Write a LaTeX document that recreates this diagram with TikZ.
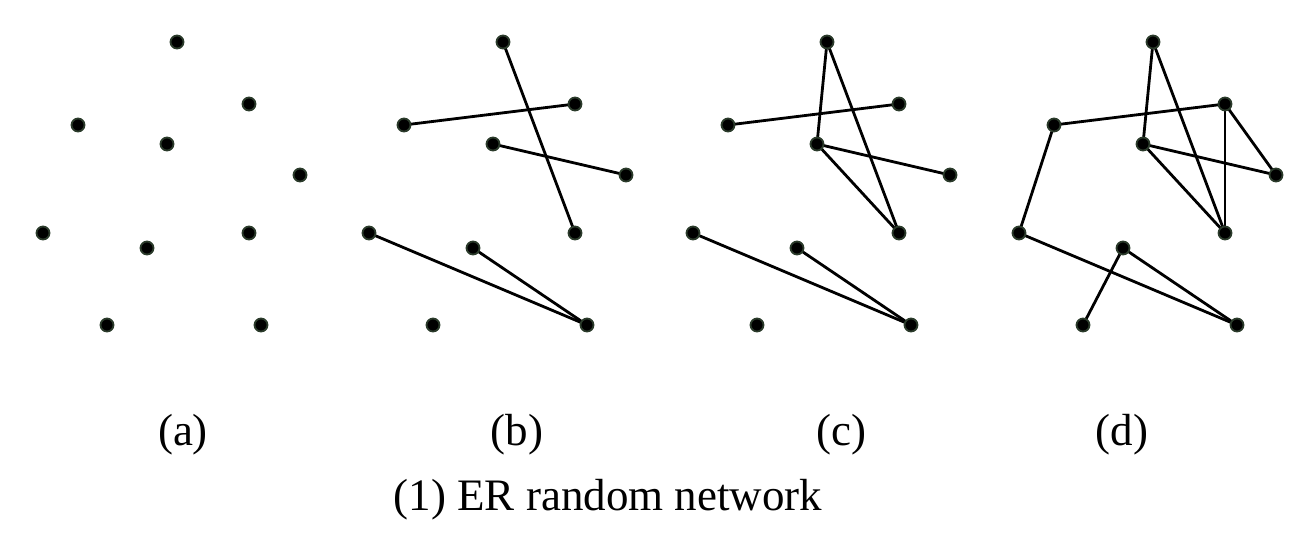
\documentclass[tikz,border=0pt]{standalone}
\usepackage{fontspec}
\setmainfont{Liberation Serif}
\pgfdeclarelayer{background}
\pgfsetlayers{background,main}
\definecolor{dotrim}{HTML}{2B3B2B}
\begin{document}
\begin{tikzpicture}[x=1pt,y=-1pt,
  dot/.style={circle,fill=black,draw=dotrim,line width=1.8pt,inner sep=0pt,minimum size=13pt},
  edge/.style={line width=2.8pt,black},
  lab/.style={font=\fontsize{45}{54}\selectfont,inner sep=0pt}]
\useasboundingbox (0,0) rectangle (1303,554);
\foreach \p/\dx in {a/0,b/326,c/650,d/976}{
  \foreach \i/\x/\y in {1/177/42,2/249/104,3/78/125,4/167/144,5/300/175,6/43/233,7/147/248,8/249/233,9/107/325,10/261/325}{
    \node[dot] (\p\i) at (\x+\dx,\y) {};
  }
}
\begin{pgfonlayer}{background}
% (b)
\draw[edge] (b1.center) -- (b8.center);
\draw[edge] (b3.center) -- (b2.center);
\draw[edge] (b4.center) -- (b5.center);
\draw[edge] (b6.center) -- (b10.center);
\draw[edge] (b7.center) -- (b10.center);
% (c)
\draw[edge] (c1.center) -- (c8.center);
\draw[edge] (c1.center) -- (c4.center);
\draw[edge] (c4.center) -- (c8.center);
\draw[edge] (c3.center) -- (c2.center);
\draw[edge] (c4.center) -- (c5.center);
\draw[edge] (c6.center) -- (c10.center);
\draw[edge] (c7.center) -- (c10.center);
% (d)
\draw[edge] (d1.center) -- (d4.center);
\draw[edge] (d1.center) -- (d8.center);
\draw[edge] (d3.center) -- (d2.center);
\draw[edge] (d3.center) -- (d6.center);
\draw[edge] (d4.center) -- (d5.center);
\draw[edge] (d4.center) -- (d8.center);
\draw[edge] (d2.center) -- (d8.center);
\draw[edge] (d2.center) -- (d5.center);
\draw[edge] (d6.center) -- (d10.center);
\draw[edge] (d7.center) -- (d10.center);
\draw[edge] (d7.center) -- (d9.center);
\end{pgfonlayer}
\node[lab] (la) at (183,435) {(a)};
\node[lab] (lb) at (517,435) {(b)};
\node[lab] (lc) at (841,435) {(c)};
\node[lab] (ld) at (1122,435) {(d)};
\node[lab] (cap) at (608,500) {(1) ER random network};
\end{tikzpicture}
\end{document}
